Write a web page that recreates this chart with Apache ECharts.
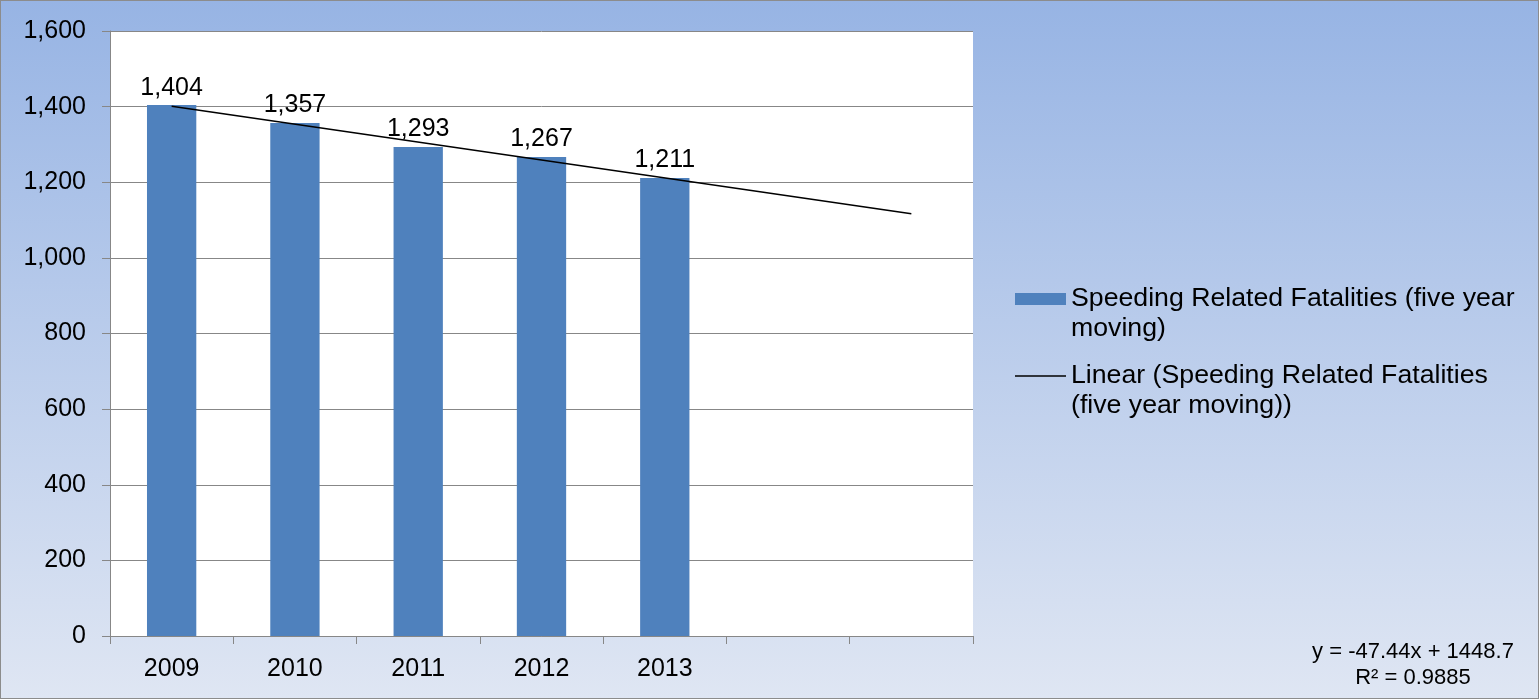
<!DOCTYPE html>
<html>
<head>
<meta charset="utf-8">
<title>Speeding Related Fatalities</title>
<script src="https://cdn.jsdelivr.net/npm/echarts@6/dist/echarts.min.js"></script>
<style>
    html, body { margin: 0; padding: 0; }
    #main {
        width: 1539px;
        height: 699px;
        box-sizing: border-box;
        border: 1px solid #8c8c8c;
        background: linear-gradient(to bottom, #97b4e4, #dfe6f3);
    }
</style>
</head>
<body>
<div id="main"></div>
<script>
    // 年份（后两个为趋势线延伸的空类目）
    var years = ['2009', '2010', '2011', '2012', '2013', '', ''];
    // 五年移动平均超速死亡人数
    var fatalities = [1404, 1357, 1293, 1267, 1211];
    // 线性趋势线：起点(2009)与延伸终点的值
    var trendEnds = [1401.3, 1116.6];
    var yTicks = [0, 1600, 200];
    var barName = 'Speeding Related Fatalities (five year\nmoving)';
    var trendName = 'Linear (Speeding Related Fatalities\n(five year moving))';
    var equation = 'y = -47.44x + 1448.7\nR² = 0.9885';

    var font = 'Liberation Sans, Arial, sans-serif';
    var gray = '#878787';

    // 趋势线只有两端有值，中间用 null 连起来
    var trendData = years.map(function () { return null; });
    trendData[0] = trendEnds[0];
    trendData[years.length - 1] = trendEnds[1];

    function fmt(v) {
        return Number(v).toLocaleString('en-US');
    }

    var mychart = echarts.init(document.getElementById('main'));
    var option = {
        backgroundColor: 'transparent',
        animation: false,
        textStyle: { fontFamily: font },
        grid: {
            left: 109,
            right: 565,
            top: 30,
            bottom: 62,
            show: true,
            backgroundColor: '#ffffff',
            borderWidth: 0
        },
        legend: {
            orient: 'vertical',
            left: 1014,
            top: 253,
            padding: 0,
            itemWidth: 51,
            itemHeight: 12,
            itemGap: -13,
            textStyle: {
                fontSize: 26.7,
                color: '#000',
                lineHeight: 30,
                // rich 模式下 padding 才会把第一行对齐到图标
                padding: [30, 0, 0, 0],
                rich: { t: { fontSize: 26.7, lineHeight: 30 } }
            },
            data: [
                { name: barName, icon: 'rect' },
                { name: trendName, icon: 'path://M0,0H52V1.5H0Z' }
            ]
        },
        xAxis: {
            type: 'category',
            data: years,
            axisLine: { lineStyle: { color: gray } },
            axisTick: { show: true, length: 8, lineStyle: { color: gray } },
            axisLabel: { color: '#000', fontSize: 25, margin: 21 },
            splitLine: { show: false }
        },
        yAxis: {
            type: 'value',
            min: yTicks[0],
            max: yTicks[1],
            interval: yTicks[2],
            axisLine: { show: true, lineStyle: { color: gray } },
            axisTick: { show: true, length: 8, lineStyle: { color: gray } },
            axisLabel: {
                color: '#000',
                fontSize: 25,
                margin: 24,
                formatter: fmt
            },
            splitLine: { lineStyle: { color: gray } }
        },
        series: [
            {
                name: barName,
                type: 'bar',
                data: fatalities,
                barWidth: '40%',
                itemStyle: { color: '#4f81bd' },
                label: {
                    show: true,
                    position: 'top',
                    distance: 5,
                    color: '#000',
                    fontSize: 25,
                    formatter: function (p) { return fmt(p.value); }
                }
            },
            {
                name: trendName,
                type: 'line',
                data: trendData,
                connectNulls: true,
                symbol: 'none',
                lineStyle: { color: '#000', width: 1.5 },
                itemStyle: { color: '#000' },
                z: 5
            }
        ],
        graphic: [
            {
                type: 'text',
                x: 1412,
                y: 638,
                style: {
                    text: equation,
                    fill: '#000',
                    font: '22px ' + font,
                    lineHeight: 26,
                    align: 'center'
                }
            }
        ]
    };
    mychart.setOption(option);
</script>
</body>
</html>
